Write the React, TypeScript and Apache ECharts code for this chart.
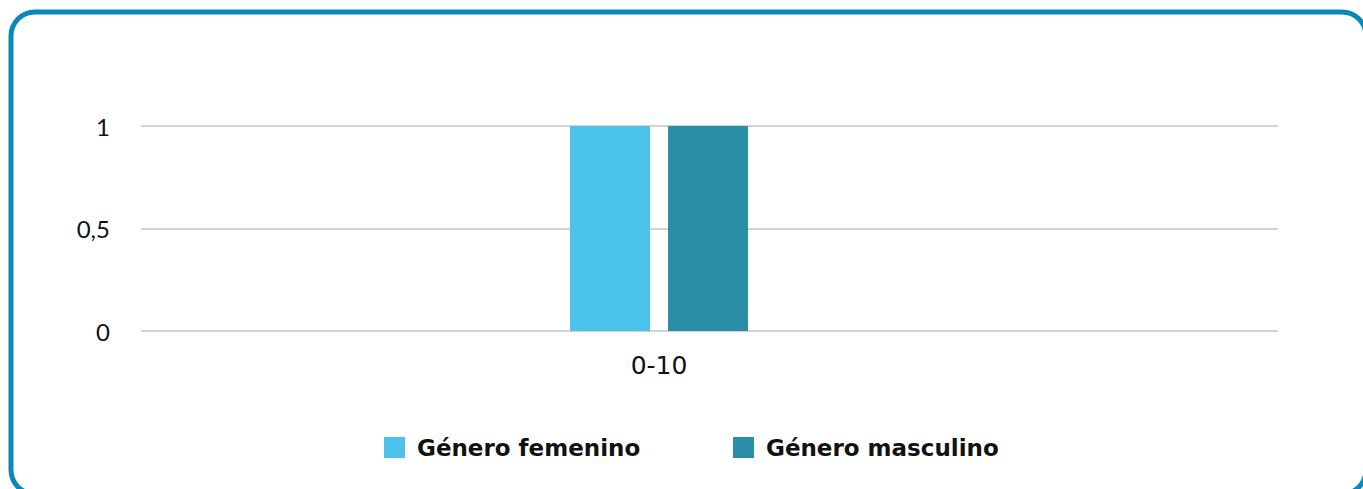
import React, { useEffect, useRef } from "react";
import * as echarts from "echarts";

const categories = ["0-10"];
const seriesNames = ["Género femenino", "Género masculino"];
const femenino = [1];
const masculino = [1];
const yTicks = [0, 0.5, 1];
const colors = ["#4bc3ea", "#2a8fa6"];

export default function App() {
  const ref = useRef<HTMLDivElement>(null);
  useEffect(() => {
    if (!ref.current) return;
    const chart = echarts.init(ref.current, undefined, { renderer: "svg" });
    const labelFont = "Lato, 'Noto Sans', sans-serif";
    const wideFont = "'DejaVu Sans', 'Noto Sans', sans-serif";
    const legendBase = {
      top: 436,
      padding: 0,
      itemWidth: 21,
      itemHeight: 21,
      icon: "rect",
      textStyle: {
        fontFamily: wideFont,
        fontSize: 23,
        fontWeight: "bold",
        color: "#111111",
        padding: [0, 0, 0, 7],
      },
    };
    chart.setOption({
      animation: false,
      backgroundColor: "#ffffff",
      color: colors,
      graphic: [
        {
          type: "rect",
          z: -10,
          silent: true,
          shape: { x: 11, y: 12, width: 1355, height: 482, r: 24 },
          style: { fill: "none", stroke: "#0b88bb", lineWidth: 5 },
        },
      ],
      legend: [
        { ...legendBase, left: 384, data: [seriesNames[0]] },
        { ...legendBase, left: 733, data: [seriesNames[1]] },
      ],
      grid: [
        { left: 141, right: 85, top: 126, bottom: 158, containLabel: false },
        { left: 141, right: 186, top: 126, bottom: 158, containLabel: false },
      ],
      xAxis: [
        {
          type: "category",
          gridIndex: 0,
          data: [""],
          show: false,
        },
        {
          type: "category",
          gridIndex: 1,
          data: categories,
          axisLine: { show: false },
          axisTick: { show: false },
          axisLabel: {
            fontFamily: wideFont,
            fontSize: 25,
            color: "#111111",
            margin: 22,
          },
        },
      ],
      yAxis: [
        {
          type: "value",
          gridIndex: 0,
          min: 0,
          max: 1,
          interval: 0.5,
          axisLine: { show: false },
          axisTick: { show: false },
          splitLine: { lineStyle: { color: "#d3d3d3", width: 2 } },
          axisLabel: {
            fontFamily: labelFont,
            fontSize: 24,
            color: "#111111",
            margin: 31,
            formatter: (v: number) =>
              yTicks.includes(v) ? String(v).replace(".", ",") : "",
          },
        },
        {
          type: "value",
          gridIndex: 1,
          min: 0,
          max: 1,
          show: false,
        },
      ],
      series: [
        {
          name: seriesNames[0],
          type: "bar",
          xAxisIndex: 1,
          yAxisIndex: 1,
          data: femenino,
          barWidth: 80,
          barGap: "22.5%",
        },
        {
          name: seriesNames[1],
          type: "bar",
          xAxisIndex: 1,
          yAxisIndex: 1,
          data: masculino,
          barWidth: 80,
          barGap: "22.5%",
        },
      ],
    });
    return () => chart.dispose();
  }, []);
  return (
    <div
      ref={ref}
      style={{ position: "fixed", left: 0, top: 0, width: 1363, height: 489 }}
    />
  );
}
